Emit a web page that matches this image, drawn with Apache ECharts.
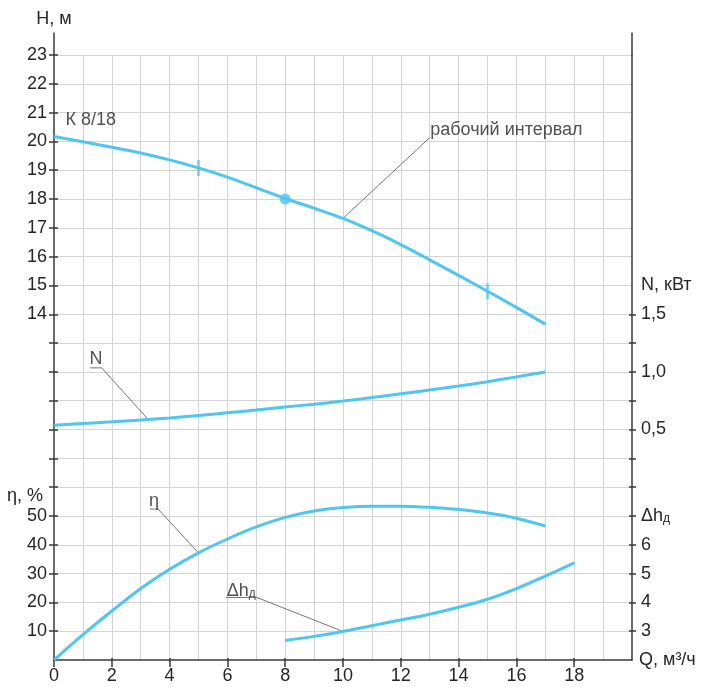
<!DOCTYPE html>
<html><head><meta charset="utf-8">
<script src="https://cdn.jsdelivr.net/npm/echarts@6/dist/echarts.min.js"></script>
<style>html,body{margin:0;padding:0;background:#fff}#c{width:704px;height:687px}</style>
</head><body><div id="c"></div>
<script>
// ---- data ----
const Q = [0,1,2,3,4,5,6,7,8,9,10,11,12,13,14,15,16,17];
const H = [20.17,19.99,19.8,19.6,19.36,19.08,18.76,18.39,18.02,17.68,17.33,16.9,16.42,15.89,15.35,14.8,14.24,13.66];
const N = [0.537,0.552,0.567,0.583,0.60,0.622,0.645,0.669,0.695,0.72,0.747,0.777,0.81,0.843,0.877,0.915,0.957,1.0];
const ETA = [0,8.8,17,24.8,31.5,37.2,42,46.2,49.5,51.7,52.9,53.4,53.4,53.0,52.2,51.0,49.2,46.5];
const Q_NPSH = [8,9,10,11,12,13,14,15,16,17,18];
const NPSH = [2.68,2.82,2.99,3.19,3.39,3.59,3.83,4.11,4.48,4.91,5.37];
const DUTY_Q = [8], DUTY_H = [18];
const RANGE_Q = [5,15], RANGE_H = [19.08,14.8];

// ---- tick labels ----
const X_TICKS = [0,2,4,6,8,10,12,14,16,18];
const H_TICKS = [3,4,5,6,7,8,9,10,11,12,13,14,15,16,17,18,19,20,21,22,23];
const H_LABELS = [14,15,16,17,18,19,20,21,22,23];
const ETA_LABELS = [10,20,30,40,50];
const N_TICKS = [-1.25,-1,-0.75,-0.5,-0.25,0,0.25,0.5,0.75,1,1.25,1.5];
const N_LABELS = [0.5,1.0,1.5];
const NPSH_LABELS = [3,4,5,6];
const ETA_TITLE_AT = 57, N_TITLE_AT = 1.75, NPSH_TITLE_AT = 7;

// ---- annotations (data coordinates) ----
const NOTE_K = [0.38, 20.76];
const NOTE_RANGE_TXT = [13.0, 20.38];
const NOTE_RANGE_LINE = [[13.0,20.13],[10,17.33]];
const NOTE_N_TXT = [1.45, 1.035];
const NOTE_N_LINE = [[1.25,1.035],[1.65,1.035],[3.25,0.59]];
const NOTE_ETA_TXT = [3.46, 52.4];
const NOTE_ETA_LINE = [[3.32,52.4],[3.6,52.4],[5,37.2]];
const NOTE_NPSH_TXT = [6.48, 4.17];
const NOTE_NPSH_LINE = [[5.95,4.17],[7.02,4.17],[10,2.99]];

const FONT = "'Liberation Sans', Arial, sans-serif";
const TXT = '#262626';
const AX = '#3a3a3a';
const GRIDC = '#d4d4d4';
const CURVE = '#4ec6f2';
const TS = {fontFamily: FONT, fontSize: 18, color: TXT};

const chart = echarts.init(document.getElementById('c'));

function zip(xs, ys){ return xs.map((x,i)=>[x, ys[i]]); }
function curve(yIdx, xs, ys){
  return {type:'line', xAxisIndex:0, yAxisIndex:yIdx, data:zip(xs,ys), smooth:0.3, symbol:'none',
    lineStyle:{color:CURVE, width:3}, z:3, silent:true};
}
function leader(yIdx, pts){
  return {type:'line', xAxisIndex:0, yAxisIndex:yIdx, data:pts, symbol:'none', silent:true, z:2,
    lineStyle:{color:'#555', width:0.8}};
}
function note(yIdx, pt, text, pos, extra){
  return {type:'scatter', xAxisIndex:0, yAxisIndex:yIdx, data:[pt], symbolSize:1, silent:true, z:4,
    itemStyle:{color:'rgba(0,0,0,0)'},
    label:Object.assign({show:true, position:pos, distance:0, formatter:text}, TS, extra||{})};
}
function hidden(o){
  return Object.assign({type:'value', axisLine:{show:false, onZero:false}, axisTick:{show:false},
    axisLabel:{show:false}, splitLine:{show:false}}, o);
}
const lineSt = {color:AX, width:1.5};
const SUB = {a:Object.assign({}, TS), s:Object.assign({}, TS, {fontSize:12, verticalAlign:'bottom'})};

const option = {
  animation:false,
  backgroundColor:'#fff',
  grid:[
    {left:54, right:72, top:55, bottom:27},
    {left:54, right:72, top:33, height:22}
  ],
  xAxis:[
    hidden({gridIndex:0, min:0, max:20, interval:1, position:'bottom',
      axisLine:{show:true, onZero:false, lineStyle:lineSt},
      splitLine:{show:true, showMinLine:false, showMaxLine:false, lineStyle:{color:GRIDC, width:1}}}),
    hidden({gridIndex:0, min:0, max:20, position:'bottom',
      axisTick:{show:true, customValues:X_TICKS, length:7, lineStyle:lineSt},
      axisLabel:Object.assign({show:true, customValues:X_TICKS, margin:7}, TS),
      name:'Q, м³/ч', nameLocation:'end', nameGap:7,
      nameTextStyle:Object.assign({padding:[20,0,0,0]}, TS)}),
    hidden({gridIndex:0, min:0, max:20, position:'bottom',
      axisTick:{show:true, inside:true, customValues:X_TICKS, length:2, lineStyle:lineSt}}),
    hidden({gridIndex:1, min:0, max:20, show:false})
  ],
  yAxis:[
    hidden({gridIndex:0, position:'left', min:2, max:23, interval:1,
      axisLine:{show:true, onZero:false, lineStyle:lineSt},
      splitLine:{show:true, showMinLine:false, showMaxLine:true, lineStyle:{color:GRIDC, width:1}}}),
    hidden({gridIndex:0, position:'left', min:0, max:210, interval:10,
      axisLabel:Object.assign({show:true, customValues:ETA_LABELS.concat([ETA_TITLE_AT]), margin:7,
        formatter:v => v===ETA_TITLE_AT ? '{t|η, %}' : String(v),
        rich:{t:Object.assign({padding:[0,4,0,0]}, TS)}}, TS)}),
    hidden({gridIndex:0, position:'right', min:-1.5, max:3.75, interval:0.25,
      axisLine:{show:true, onZero:false, lineStyle:lineSt},
      axisTick:{show:true, customValues:N_TICKS, length:4, lineStyle:lineSt},
      axisLabel:Object.assign({show:true, customValues:N_LABELS.concat([N_TITLE_AT]), margin:9,
        formatter:v => v===N_TITLE_AT ? 'N, кВт' : v.toFixed(1).replace('.', ',')}, TS)}),
    hidden({gridIndex:0, position:'right', min:2, max:23, interval:1,
      axisLabel:Object.assign({show:true, customValues:NPSH_LABELS.concat([NPSH_TITLE_AT]), margin:9,
        formatter:v => v===NPSH_TITLE_AT ? '{a|Δh}{s|д}' : String(v), rich:SUB}, TS)}),
    hidden({gridIndex:0, position:'left', min:2, max:23,
      axisTick:{show:true, customValues:H_TICKS, length:5, lineStyle:lineSt},
      axisLabel:Object.assign({show:true, customValues:H_LABELS, margin:7}, TS)}),
    hidden({gridIndex:0, position:'left', min:2, max:23,
      axisTick:{show:true, inside:true, customValues:H_TICKS, length:4, lineStyle:lineSt}}),
    hidden({gridIndex:0, position:'right', min:-1.5, max:3.75,
      axisTick:{show:true, inside:true, customValues:N_TICKS, length:3, lineStyle:lineSt}}),
    hidden({gridIndex:1, position:'left', min:0, max:1,
      axisLine:{show:true, onZero:false, lineStyle:lineSt},
      name:'H, м', nameLocation:'end', nameGap:5, nameTextStyle:Object.assign({}, TS)}),
    hidden({gridIndex:1, position:'right', min:0, max:1,
      axisLine:{show:true, onZero:false, lineStyle:lineSt}})
  ],
  series:[
    curve(0, Q, H),
    curve(2, Q, N),
    curve(1, Q, ETA),
    curve(3, Q_NPSH, NPSH),
    {type:'scatter', xAxisIndex:0, yAxisIndex:0, data:zip(DUTY_Q, DUTY_H), symbol:'circle', symbolSize:11,
      itemStyle:{color:CURVE}, z:5, silent:true},
    {type:'scatter', xAxisIndex:0, yAxisIndex:0, data:zip(RANGE_Q, RANGE_H), symbol:'rect', symbolSize:[2.5,16],
      itemStyle:{color:CURVE}, z:5, silent:true},
    leader(0, NOTE_RANGE_LINE),
    leader(2, NOTE_N_LINE),
    leader(1, NOTE_ETA_LINE),
    leader(3, NOTE_NPSH_LINE),
    note(0, NOTE_K, 'К 8/18', 'right'),
    note(0, NOTE_RANGE_TXT, 'рабочий интервал', 'right'),
    note(2, NOTE_N_TXT, 'N', 'top', {distance:-1}),
    note(1, NOTE_ETA_TXT, 'η', 'top', {distance:-1}),
    note(3, NOTE_NPSH_TXT, '{a|Δh}{s|д}', 'top', {distance:-3, rich:SUB})
  ]
};
chart.setOption(option);
</script>
</body></html>
